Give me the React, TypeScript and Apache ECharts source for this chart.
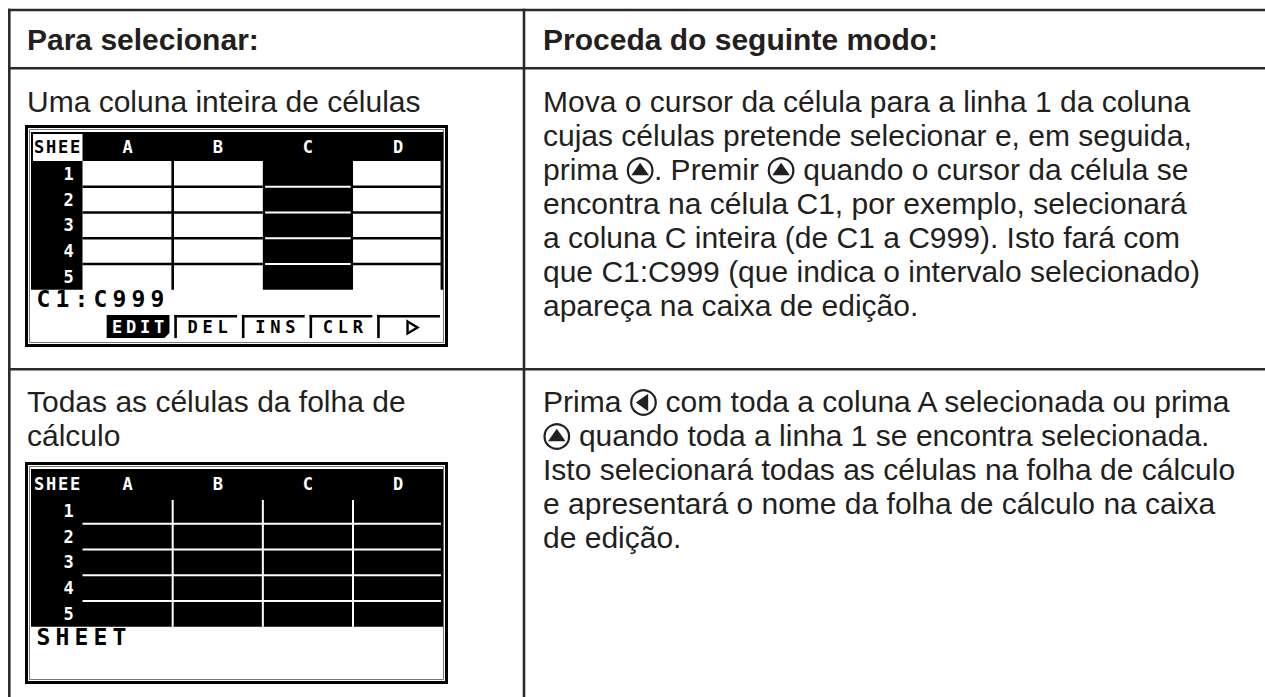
import React, { useEffect, useRef } from "react";
import * as echarts from "echarts";

// ---------- content ----------
const headerLeft = "Para selecionar:";
const headerRight = "Proceda do seguinte modo:";
const row1Left = ["Uma coluna inteira de células"];
const row2Left = ["Todas as células da folha de", "cálculo"];
// [UP] / [LEFT] are cursor-key icons drawn inline
const row1Right = [
  "Mova o cursor da célula para a linha 1 da coluna",
  "cujas células pretende selecionar e, em seguida,",
  "prima [UP]. Premir [UP] quando o cursor da célula se",
  "encontra na célula C1, por exemplo, selecionará",
  "a coluna C inteira (de C1 a C999). Isto fará com",
  "que C1:C999 (que indica o intervalo selecionado)",
  "apareça na caixa de edição.",
];
const row2Right = [
  "Prima [LEFT] com toda a coluna A selecionada ou prima",
  "[UP] quando toda a linha 1 se encontra selecionada.",
  "Isto selecionará todas as células na folha de cálculo",
  "e apresentará o nome da folha de cálculo na caixa",
  "de edição.",
];
const sheetCorner = "SHEE";
const sheetColumns = ["A", "B", "C", "D"];
const sheetRows = ["1", "2", "3", "4", "5"];
const softKeys = ["EDIT", "DEL", "INS", "CLR", "▷"];
const editLine1 = "C1:C999";
const editLine2 = "SHEET";

// ---------- styles ----------
const FONT_FAMILY = '"Liberation Sans", Arial, Helvetica, sans-serif';
const LCD_FONT = '"DejaVu Sans Mono", "Liberation Mono", monospace';
const FS = 30;
const LINE_H = 34;
const TEXT_COLOR = "#231f20";
const RULE_COLOR = "#2b2b2b";
const S = 3.22; // LCD pixel size

let mctx: CanvasRenderingContext2D | null = null;
function measure(t: string, weight = "normal") {
  if (!mctx) mctx = document.createElement("canvas").getContext("2d");
  mctx!.font = `${weight} ${FS}px ${FONT_FAMILY}`;
  return mctx!.measureText(t).width;
}

function txt(x: number, y: number, text: string, opts: any = {}) {
  return {
    type: "text",
    x,
    y,
    style: {
      text,
      fontSize: opts.size ?? FS,
      fontFamily: opts.family ?? FONT_FAMILY,
      fontWeight: opts.weight ?? "normal",
      fill: opts.fill ?? TEXT_COLOR,
      align: opts.align ?? "left",
      verticalAlign: "middle",
    },
  };
}

function line(x1: number, y1: number, x2: number, y2: number, stroke: string, lw: number) {
  return { type: "line", shape: { x1, y1, x2, y2 }, style: { stroke, lineWidth: lw } };
}

function rect(x: number, y: number, w: number, h: number, fill: string) {
  return { type: "rect", shape: { x, y, width: w, height: h }, style: { fill } };
}

function icon(out: any[], x: number, yMid: number, kind: string) {
  const r = FS * 0.41;
  const cx = x + r + 1.5;
  const cy = yMid + 1.5;
  out.push({ type: "circle", shape: { cx, cy, r }, style: { fill: "#fff", stroke: TEXT_COLOR, lineWidth: 2.2 } });
  const t = r * 0.62;
  const pts =
    kind === "[UP]"
      ? [[cx, cy - t], [cx - t * 1.15, cy + t * 0.62], [cx + t * 1.15, cy + t * 0.62]]
      : [[cx - t, cy], [cx + t * 0.62, cy - t * 1.15], [cx + t * 0.62, cy + t * 1.15]];
  out.push({ type: "polygon", shape: { points: pts }, style: { fill: TEXT_COLOR } });
  return 2 * r + 3;
}

function richLine(out: any[], s: string, x: number, yMid: number) {
  const parts = s.split(/(\[UP\]|\[LEFT\])/);
  let cx = x;
  for (const p of parts) {
    if (!p) continue;
    if (p === "[UP]" || p === "[LEFT]") {
      cx += icon(out, cx, yMid, p);
    } else {
      const lead = p.length - p.trimStart().length;
      const off = lead ? measure(p.slice(0, lead)) : 0;
      out.push(txt(cx + off, yMid, p.trim()));
      cx += measure(p);
    }
  }
}

function pixText(out: any[], s: string, x0: number, yMid: number, pitch: number, size: number, fill: string, weight = "bold") {
  const chars = Array.from(s);
  chars.forEach((ch, i) => {
    out.push(txt(x0 + pitch * i + pitch / 2, yMid, ch, { size, family: LCD_FONT, weight, fill, align: "center" }));
  });
}

function frame(out: any[], top: number) {
  out.push({ type: "rect", shape: { x: 26.5, y: top + 1.5, width: 420, height: 219 }, style: { fill: "#fff", stroke: "#000", lineWidth: 3 } });
  out.push({ type: "rect", shape: { x: 29.5, y: top + 4.5, width: 414, height: 213 }, style: { fill: "none", stroke: "#777", lineWidth: 1 } });
}

const colU = [16, 44, 72, 100, 128];
const rowV = [9, 17, 25, 33, 41, 49];

function screen1(out: any[]) {
  const ox = 31, oy = 132;
  const X = (u: number) => ox + u * S;
  const Y = (v: number) => oy + v * S;
  frame(out, 125);
  out.push(rect(X(0), Y(0), X(128) - X(0), Y(9) - Y(0), "#000"));
  out.push(rect(X(0) + 2, Y(0) + 2, X(16) - X(0) - 2, Y(9) - Y(0) - 2, "#fff"));
  out.push(rect(X(0), Y(9), X(16) - X(0), Y(49) - Y(9), "#000"));
  for (let k = 1; k <= 4; k++) {
    out.push(line(X(16), Y(rowV[k]), X(72), Y(rowV[k]), "#000", 2.6));
    out.push(line(X(100), Y(rowV[k]), X(128) - 1, Y(rowV[k]), "#000", 2.6));
  }
  out.push(line(X(44), Y(9), X(44), Y(49), "#000", 2.6));
  out.push(line(X(128) - 1.3, Y(0), X(128) - 1.3, Y(49), "#000", 2.6));
  out.push(rect(X(72), Y(9) - 1, X(100) - X(72), Y(49) - Y(9) + 1, "#000"));
  for (let k = 1; k <= 4; k++) {
    out.push(line(X(72.7), Y(rowV[k]), X(99.3), Y(rowV[k]), "#fff", 2));
  }
  pixText(out, sheetCorner, X(0) + 2, Y(4.8), 12, 17, "#000");
  sheetColumns.forEach((c, i) => out.push(txt((X(colU[i]) + X(colU[i + 1])) / 2, Y(4.7), c, { size: 17, family: LCD_FONT, weight: "bold", fill: "#fff", align: "center" })));
  sheetRows.forEach((r, i) => out.push(txt(X(13.3), (Y(rowV[i]) + Y(rowV[i + 1])) / 2, r, { size: 17, family: LCD_FONT, weight: "bold", fill: "#fff", align: "right" })));
  pixText(out, editLine1, X(0) + 3, Y(51.8), 19, 23, "#000");
  const y0 = Y(56.8), y1 = Y(64);
  softKeys.forEach((k, i) => {
    const x0 = X(23.5 + 21 * i);
    const x1 = X(23.5 + 21 * i + 19.5);
    const mid = (y0 + y1) / 2 + 1;
    if (i === 0) {
      out.push({ type: "polygon", shape: { points: [[x0, y0], [x1, y0], [x1, y1 - 5], [x1 - 5, y1], [x0, y1]] }, style: { fill: "#000" } });
      pixText(out, k, (x0 + x1) / 2 - 2 * 14, mid, 14, 17, "#fff");
    } else {
      out.push(line(x0, y0 + 1.3, x1, y0 + 1.3, "#000", 2.6));
      out.push(line(x0 + 1.3, y0, x0 + 1.3, y1, "#000", 2.6));
      if (k === "▷") {
        const cx = (x0 + x1) / 2 + 4;
        out.push({ type: "polygon", shape: { points: [[cx - 5, mid - 6], [cx + 5, mid], [cx - 5, mid + 6]] }, style: { fill: "none", stroke: "#000", lineWidth: 2.4 } });
      } else {
        const n = Array.from(k).length;
        pixText(out, k, (x0 + x1) / 2 - (n * 15) / 2 + 2, mid, 15, 17, "#000");
      }
    }
  });
}

function screen2(out: any[]) {
  const ox = 31, oy = 469;
  const X = (u: number) => ox + u * S;
  const Y = (v: number) => oy + v * S;
  frame(out, 462);
  out.push(rect(X(0), Y(0), X(128) - X(0), Y(49) - Y(0), "#000"));
  for (let k = 1; k <= 4; k++) {
    out.push(line(X(16), Y(rowV[k]), X(127.3), Y(rowV[k]), "#fff", 2));
  }
  for (let k = 1; k <= 3; k++) {
    out.push(line(X(colU[k]), Y(9.6), X(colU[k]), Y(49), "#fff", 2));
  }
  pixText(out, sheetCorner, X(0) + 2, Y(4.8), 12, 17, "#fff");
  sheetColumns.forEach((c, i) => out.push(txt((X(colU[i]) + X(colU[i + 1])) / 2, Y(4.7), c, { size: 17, family: LCD_FONT, weight: "bold", fill: "#fff", align: "center" })));
  sheetRows.forEach((r, i) => out.push(txt(X(13.3), (Y(rowV[i]) + Y(rowV[i + 1])) / 2, r, { size: 17, family: LCD_FONT, weight: "bold", fill: "#fff", align: "right" })));
  pixText(out, editLine2, X(0) + 3, Y(52.2), 19, 23, "#000");
}

function buildElements() {
  const out: any[] = [];
  const LW = 2.6;
  out.push(line(8, 10, 1265, 10, RULE_COLOR, LW));
  out.push(line(8, 68.3, 1265, 68.3, RULE_COLOR, LW));
  out.push(line(8, 369.3, 1265, 369.3, RULE_COLOR, LW));
  out.push(line(9.3, 8.7, 9.3, 697, RULE_COLOR, LW));
  out.push(line(524, 8.7, 524, 697, RULE_COLOR, LW));

  const LX = 27, RX = 543;
  out.push(txt(LX, 39, headerLeft, { weight: "bold" }));
  out.push(txt(RX, 39, headerRight, { weight: "bold" }));

  row1Left.forEach((s, i) => richLine(out, s, LX, 101 + i * LINE_H));
  row2Left.forEach((s, i) => richLine(out, s, LX, 401 + i * LINE_H));
  row1Right.forEach((s, i) => richLine(out, s, RX, 101 + i * LINE_H));
  row2Right.forEach((s, i) => richLine(out, s, RX, 401 + i * LINE_H));

  screen1(out);
  screen2(out);
  return out;
}

export default function App() {
  const ref = useRef<HTMLDivElement>(null);
  useEffect(() => {
    document.body.style.margin = "0";
    const chart = echarts.init(ref.current!, null, { renderer: "svg" });
    chart.setOption({
      animation: false,
      backgroundColor: "#ffffff",
      graphic: { elements: buildElements() },
    });
    return () => chart.dispose();
  }, []);
  return <div ref={ref} style={{ width: 1265, height: 697, overflow: "hidden" }} />;
}
